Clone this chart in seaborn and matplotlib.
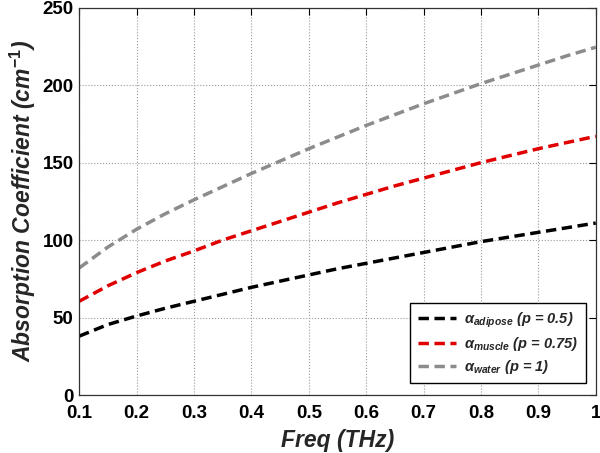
import numpy as np
import pandas as pd
import seaborn as sns
import matplotlib.pyplot as plt

# frekans (THz) ve okunan absorpsiyon değerleri (cm^-1)
freq = [0.1, 0.15, 0.2, 0.25, 0.3, 0.35, 0.4, 0.45, 0.5, 0.55,
        0.6, 0.65, 0.7, 0.75, 0.8, 0.85, 0.9, 0.95, 1.0]
adipose = [38, 45.5, 51, 56, 60.5, 65, 69.5, 73.5, 77.5, 81.5,
           85, 88.5, 92, 95.5, 99, 102, 105, 108, 111]
muscle = [60.5, 70.5, 79, 86.5, 93, 100, 106, 112, 118, 124,
          129.5, 135, 140, 145, 150, 154.5, 159, 163, 167]
water = [82, 95.5, 107, 117, 126, 134.5, 143, 151, 159, 166.5,
         174, 181, 188, 194.5, 201, 207, 213, 219, 224.5]

labels = [r'$\alpha_{adipose}$ (p = 0.5)',
          r'$\alpha_{muscle}$ (p = 0.75)',
          r'$\alpha_{water}$ (p = 1)']
colors = ['#000000', '#e00000', '#8c8c8c']

df = pd.DataFrame({
    'freq': freq * 3,
    'alpha': adipose + muscle + water,
    'tissue': [labels[0]] * len(freq) + [labels[1]] * len(freq) + [labels[2]] * len(freq),
})

sns.set_style('white')
plt.rcParams['font.family'] = ['Liberation Sans', 'DejaVu Sans']
plt.rcParams['mathtext.fontset'] = 'custom'
plt.rcParams['mathtext.it'] = 'Liberation Sans:italic:bold'
plt.rcParams['mathtext.rm'] = 'Liberation Sans:bold'

fig = plt.figure(figsize=(6, 4.53), dpi=100)
ax = fig.add_axes([0.132, 0.128, 0.861, 0.855])

sns.lineplot(data=df, x='freq', y='alpha', hue='tissue', palette=colors,
             linewidth=2.5, ax=ax)
for line in ax.get_lines():
    line.set_linestyle((0, (3, 1.6)))

ax.set_xlim(0.1, 1.0)
ax.set_ylim(0, 250)
ax.set_xticks(np.arange(0.1, 1.01, 0.1))
ax.set_xticklabels(['0.1', '0.2', '0.3', '0.4', '0.5', '0.6', '0.7', '0.8', '0.9', '1'])
ax.set_yticks([0, 50, 100, 150, 200, 250])
ax.grid(True, linestyle=':', color='#999999', linewidth=0.8)
ax.tick_params(direction='in', length=5, width=0.8, top=True, right=True,
               labelsize=13.5, colors='black')
ax.tick_params(axis='x', pad=7)
ax.tick_params(axis='y', pad=4)
for t in ax.get_xticklabels() + ax.get_yticklabels():
    t.set_fontweight('bold')
for s in ax.spines.values():
    s.set_color('#333333')
    s.set_linewidth(0.9)

ax.set_xlabel('Freq (THz)', fontsize=16.5, fontweight='bold', fontstyle='italic', labelpad=5)
ax.set_ylabel('Absorption Coefficient (cm$^{-1}$)', fontsize=16.5, fontweight='bold',
              fontstyle='italic', labelpad=3)

leg = ax.legend(loc='lower right', fancybox=False, edgecolor='black', framealpha=1,
                prop={'weight': 'bold', 'style': 'italic', 'size': 10.5},
                handlelength=2.6, handletextpad=0.6, borderpad=0.5, labelspacing=0.35,
                bbox_to_anchor=(0.995, 0.012))
leg.get_frame().set_linewidth(1.0)

fig.savefig('out.png', dpi=100)
